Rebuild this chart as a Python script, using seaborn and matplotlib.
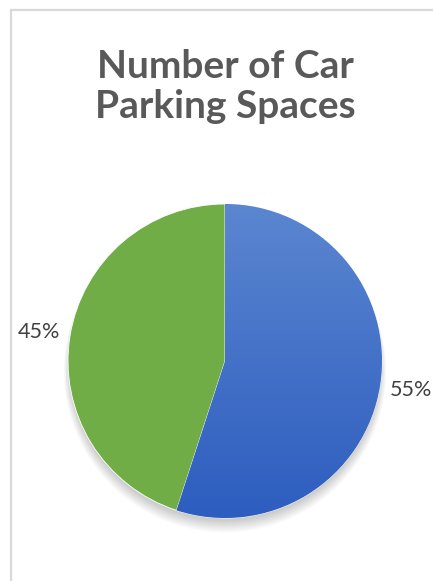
import numpy as np
import seaborn as sns
import matplotlib.pyplot as plt
from matplotlib.lines import Line2D
from matplotlib.patches import Circle
from matplotlib.colors import LinearSegmentedColormap

sns.set_theme(style="white")
plt.rcParams['font.family'] = ['Lato', 'DejaVu Sans']

# data
categories = ['Blue', 'Green']
shares = [55, 45]
colors = ['#4a78cc', '#70ad47']
title_lines = ['Number of Car', 'Parking Spaces']

W, H = 433, 581
fig = plt.figure(figsize=(W / 100, H / 100), dpi=100)

# pie centre / radius in pixels
cx, cy, R = 225, 361, 157
lim = 1.3
side = 2 * lim * R
ax = fig.add_axes([(cx - side / 2) / W, (H - cy - side / 2) / H, side / W, side / H])

# soft shadow, mostly below the pie
for i in range(10):
    ax.add_patch(Circle((0, -0.03 - 0.004 * i), 0.99 + 0.004 * i, color='black',
                        alpha=0.02, zorder=0, lw=0))

wedges, texts, autotexts = ax.pie(
    shares, colors=colors, startangle=90, counterclock=False,
    autopct='%d%%', pctdistance=1.2, radius=1.0,
    wedgeprops=dict(linewidth=0.6, edgecolor='white'),
    textprops=dict(fontsize=15.5, color='#404040'))
for w in wedges:
    w.set_zorder(2)

# vertical gradient on the blue slice
grad = np.linspace(0, 1, 256).reshape(-1, 1)
blue_cmap = LinearSegmentedColormap.from_list('b', ['#2d5dbf', '#5b86d0'])
img = ax.imshow(grad, cmap=blue_cmap, extent=[-1, 1, -1, 1], origin='lower',
                aspect='auto', zorder=3)
img.set_clip_path(wedges[0])

ax.set_xlim(-lim, lim)
ax.set_ylim(-lim, lim)
ax.set_aspect('equal')
ax.axis('off')

# title
fig.text(cx / W, 1 - 78 / H, title_lines[0], ha='center', va='baseline',
         fontsize=28, fontweight='bold', color='#595959')
fig.text(cx / W, 1 - 118 / H, title_lines[1], ha='center', va='baseline',
         fontsize=28, fontweight='bold', color='#595959')

# chart area border
fig.add_artist(Line2D([11 / W, 1], [1 - 10 / H, 1 - 10 / H], color='#d9d9d9', lw=1.6))
fig.add_artist(Line2D([11 / W, 11 / W], [0, 1 - 10 / H], color='#d9d9d9', lw=1.6))

fig.savefig('out.png', dpi=100)
